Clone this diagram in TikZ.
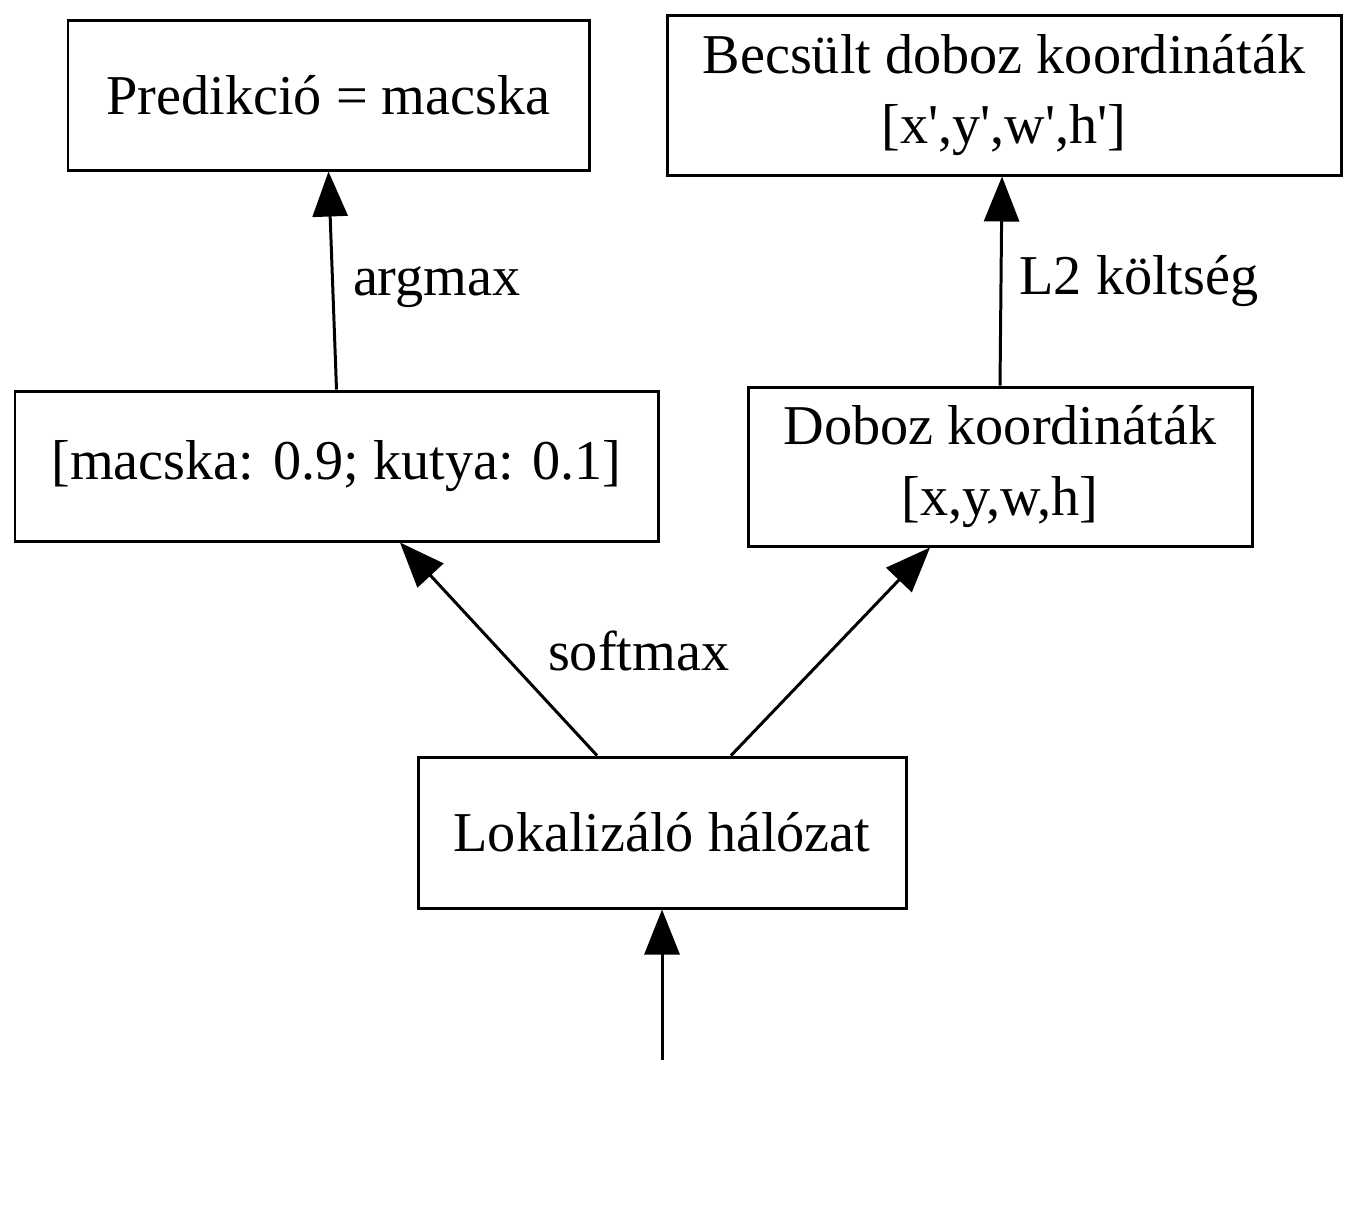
\documentclass[tikz,border=0pt]{standalone}
\usepackage{fontspec}
\setmainfont{Liberation Serif}
\usetikzlibrary{arrows.meta}
\newcommand{\q}{\textquotesingle}
\tikzset{
  box/.style={draw, line width=0.85pt, align=center, inner sep=0pt,
    font=\fontsize{16}{20}\selectfont},
  edge/.style={line width=0.85pt, -{Triangle[length=0.45cm, width=0.35cm]}},
  lbl/.style={inner sep=0pt}
}
\begin{document}
\begin{tikzpicture}\fontsize{16}{20}\selectfont
\useasboundingbox (0,0) rectangle (13.58,-12.29);
% upper row
  \node[box, minimum width=5.21cm, minimum height=1.50cm] (pred) at (3.285,-0.95) {Predikció = macska};
  \node[box, minimum width=6.74cm, minimum height=1.60cm] (becs) at (10.04,-0.95) {Becsült doboz koordináták\\{}[x\q,y\q,w\q,h\q]};
% middle row
  \node[box, minimum width=6.43cm, minimum height=1.50cm] (prob) at (3.365,-4.66) {[macska: 0.9; kutya: 0.1]};
  \node[box, minimum width=5.04cm, minimum height=1.59cm] (dob) at (10.00,-4.665) {Doboz koordináták\\{}[x,y,w,h]};
% network
  \node[box, minimum width=4.88cm, minimum height=1.51cm] (lok) at (6.62,-8.325) {Lokalizáló hálózat};
  \coordinate (inp) at (6.62,-10.60);
% connectors
  \draw[edge] (inp) -- (lok.south);
  \draw[edge] ([xshift=-0.65cm]lok.north) -- ([xshift=0.635cm]prob.south)
    node[lbl, midway, anchor=west, xshift=0.48cm, yshift=-0.02cm] {softmax};
  \draw[edge] ([xshift=0.69cm]lok.north) -- ([xshift=-0.70cm]dob.south);
  \draw[edge] (prob.north) -- (pred.south)
    node[lbl, midway, anchor=west, xshift=0.19cm, yshift=-0.07cm] {argmax};
  \draw[edge] (dob.north) -- ([xshift=-0.02cm]becs.south)
    node[lbl, midway, anchor=west, xshift=0.17cm] {L2 költség};
\end{tikzpicture}
\end{document}
